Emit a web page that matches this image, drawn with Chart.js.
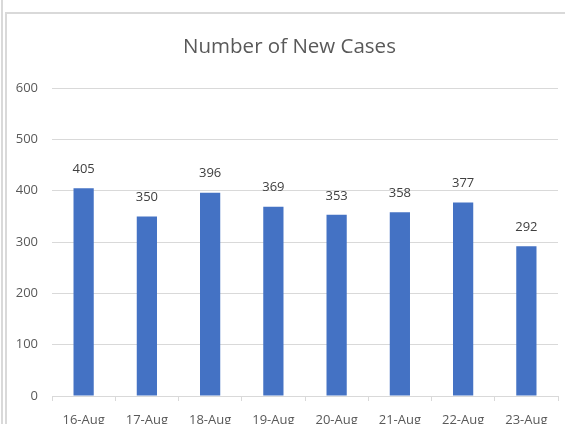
<!DOCTYPE html>
<html>
<head>
<meta charset="utf-8">
<script src="https://cdn.jsdelivr.net/npm/chart.js@4"></script>
<style>
  html, body { margin: 0; padding: 0; background: #fff; }
  #wrap { position: relative; width: 565px; height: 424px; overflow: hidden; }
  #edge { position: absolute; left: 1px; top: 0; width: 2px; height: 424px; background: #d9d9d9; }
  #frame { position: absolute; left: 5px; top: 12px; width: 570px; height: 420px;
           border-left: 2px solid #d9d9d9; border-top: 2px solid #d9d9d9; }
  canvas { position: absolute; left: 0; top: 0; }
</style>
</head>
<body>
<div id="wrap">
  <div id="edge"></div>
  <div id="frame"></div>
  <canvas id="chart" width="565" height="424"></canvas>
</div>
<script>
// ─── Data ─────────────────────────────────────────────────────────────────────
const chartTitle = 'Number of New Cases';
const dates      = ['16-Aug', '17-Aug', '18-Aug', '19-Aug', '20-Aug', '21-Aug', '22-Aug', '23-Aug'];
const newCases   = [405, 350, 396, 369, 353, 358, 377, 292];
const yTicks     = [0, 100, 200, 300, 400, 500, 600];

const FONT = "'Open Sans', 'Noto Sans', sans-serif";
const GREY = '#595959';

// ─── Value labels above bars ──────────────────────────────────────────────────
const barLabels = {
  id: 'barLabels',
  afterDatasetsDraw(chart) {
    const ctx = chart.ctx;
    const meta = chart.getDatasetMeta(0);
    ctx.save();
    ctx.font = `13px ${FONT}`;
    ctx.fillStyle = '#404040';
    ctx.textAlign = 'center';
    ctx.textBaseline = 'middle';
    meta.data.forEach((bar, i) => {
      ctx.fillText(String(newCases[i]), bar.x, bar.y - 19);
    });
    ctx.restore();
  }
};

// the original frame is wider than the picture, so its title sits a bit right of centre
const titleShift = {
  id: 'titleShift',
  afterLayout(chart) {
    if (chart.titleBlock) chart.titleBlock.left += 21;
  }
};

new Chart(document.getElementById('chart'), {
  type: 'bar',
  data: {
    labels: dates,
    datasets: [{
      label: 'New Cases',
      data: newCases,
      backgroundColor: '#4472c4',
      categoryPercentage: 1,
      barPercentage: 0.32,
    }]
  },
  options: {
    responsive: false,
    animation: false,
    layout: { padding: { top: 0, right: 7, left: 0, bottom: 0 } },
    plugins: {
      legend: { display: false },
      tooltip: { enabled: false },
      title: {
        display: true,
        text: chartTitle,
        color: GREY,
        font: { family: FONT, size: 20.5, weight: 'normal' },
        padding: { top: 35, bottom: 28.5 }
      }
    },
    scales: {
      x: {
        grid: { offset: true, drawOnChartArea: false, drawTicks: true, tickLength: 5, color: '#d9d9d9' },
        border: { color: '#d9d9d9', width: 1 },
        ticks: { color: GREY, font: { family: FONT, size: 13 }, padding: 11, maxRotation: 0 },
        afterFit: s => { s.height = 28; }
      },
      y: {
        min: 0, max: 600,
        afterBuildTicks: s => { s.ticks = yTicks.map(v => ({ value: v })); },
        grid: { color: '#d9d9d9', drawTicks: false },
        border: { display: false },
        ticks: { color: GREY, font: { family: FONT, size: 13 }, padding: 14 },
        afterFit: s => { s.width = 52; }
      }
    }
  },
  plugins: [barLabels, titleShift]
});
</script>
</body>
</html>
